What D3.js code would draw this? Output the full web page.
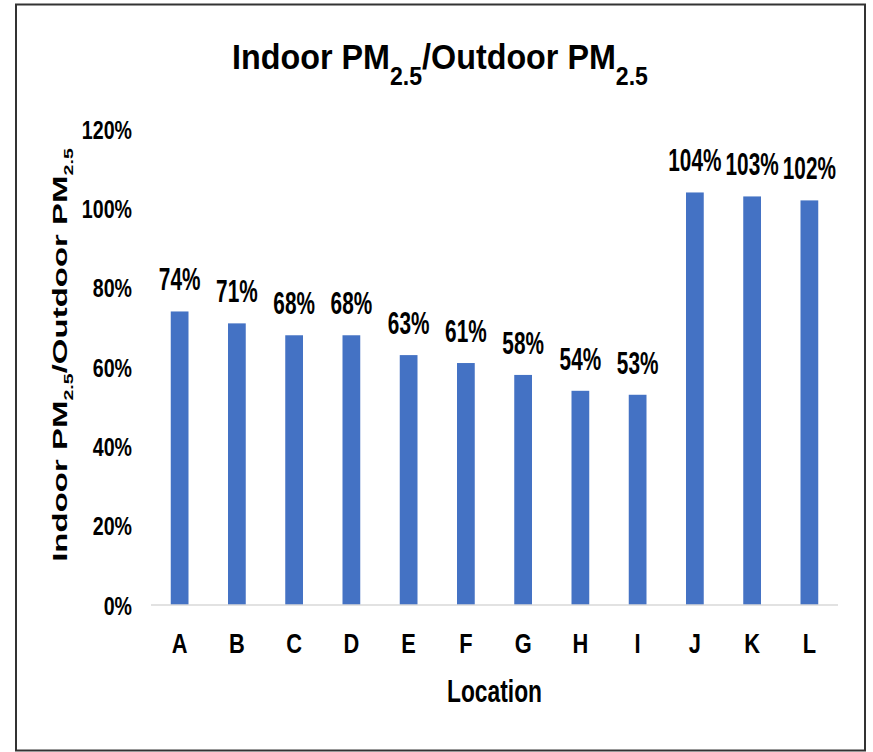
<!DOCTYPE html>
<html>
<head>
<meta charset="utf-8">
<script src="https://cdn.jsdelivr.net/npm/d3@7"></script>
<style>
  html, body { margin: 0; padding: 0; background: #fff; }
  svg text { font-family: "Liberation Sans", Arial, sans-serif; font-weight: bold; fill: #000; }
</style>
</head>
<body>
<svg id="chart" width="873" height="752"></svg>
<script>
// Indoor / outdoor PM2.5 ratio per sampling location
const locations = ["A", "B", "C", "D", "E", "F", "G", "H", "I", "J", "K", "L"];
const ratios = [74, 71, 68, 68, 63, 61, 58, 54, 53, 104, 103, 102];
const yTicks = [0, 20, 40, 60, 80, 100, 120];

const svg = d3.select("#chart");

// outer frame
svg.append("rect")
  .attr("x", 16).attr("y", 4.5).attr("width", 849).attr("height", 746)
  .attr("fill", "none").attr("stroke", "#333").attr("stroke-width", 2);

const plot = { left: 151, right: 838, top: 129, bottom: 605 };

const x = d3.scaleBand()
  .domain(locations)
  .range([plot.left, plot.right])
  .paddingInner(0.69)
  .paddingOuter(0.345);

const y = d3.scaleLinear()
  .domain([0, 120])
  .range([plot.bottom, plot.top]);

// scale a text node horizontally so its box width hits a target
function fitWidth(sel, target) {
  const w = sel.node().getBBox().width;
  return target / w;
}

// bars
svg.append("g").selectAll("rect")
  .data(locations)
  .join("rect")
  .attr("x", d => x(d))
  .attr("width", x.bandwidth())
  .attr("y", (d, i) => y(ratios[i]))
  .attr("height", (d, i) => y(0) - y(ratios[i]))
  .attr("fill", "#4472C4");

// category axis
const xAxis = svg.append("g")
  .attr("transform", `translate(0,${plot.bottom})`)
  .call(d3.axisBottom(x).tickSize(0).tickPadding(0));
xAxis.select(".domain").attr("stroke", "#d9d9d9").attr("stroke-width", 1.5)
  .attr("d", `M${plot.left},0H${plot.right}`);
xAxis.selectAll(".tick text")
  .attr("y", 0).attr("dy", null)
  .attr("font-size", 28)
  .attr("transform", "translate(0,48) scale(0.78,1)");

// value axis (labels only)
const yAxis = svg.append("g")
  .attr("transform", `translate(${plot.left},0)`)
  .call(d3.axisLeft(y).tickValues(yTicks).tickFormat(d => d + "%").tickSize(0).tickPadding(0));
yAxis.select(".domain").remove();
yAxis.selectAll(".tick text")
  .attr("x", 0).attr("dy", null)
  .attr("font-size", 26.5)
  .attr("transform", "translate(-19,9) scale(0.74,1)");

// value labels above bars
svg.append("g").selectAll("text")
  .data(locations)
  .join("text")
  .attr("text-anchor", "middle")
  .attr("font-size", 31)
  .attr("transform", (d, i) => `translate(${x(d) + x.bandwidth() / 2},${y(ratios[i]) - 21}) scale(0.67,1)`)
  .text((d, i) => ratios[i] + "%");

// chart title with subscripts
const title = svg.append("text")
  .attr("text-anchor", "middle")
  .attr("font-size", 35);
title.append("tspan").text("Indoor PM");
title.append("tspan").attr("font-size", 25).attr("dy", 16).text("2.5");
title.append("tspan").attr("dy", -16).text("/Outdoor PM");
title.append("tspan").attr("font-size", 25).attr("dy", 16).text("2.5");
title.attr("transform", `translate(440,69) scale(${fitWidth(title, 416)},1)`);

// x axis title
const xTitle = svg.append("text")
  .attr("text-anchor", "middle")
  .attr("font-size", 32)
  .text("Location");
xTitle.attr("transform", `translate(${(plot.left + plot.right) / 2},702) scale(${fitWidth(xTitle, 95)},1)`);

// y axis title, rotated, with subscripts
const yTitle = svg.append("text")
  .attr("text-anchor", "middle")
  .attr("font-size", 21);
yTitle.append("tspan").text("Indoor PM");
yTitle.append("tspan").attr("font-size", 12.5).attr("dy", 6).text("2.5");
yTitle.append("tspan").attr("dy", -6).text("/Outdoor PM");
yTitle.append("tspan").attr("font-size", 12.5).attr("dy", 6).text("2.5");
yTitle.attr("transform", `translate(67,355) rotate(-90) scale(${fitWidth(yTitle, 414)},1)`);
</script>
</body>
</html>
